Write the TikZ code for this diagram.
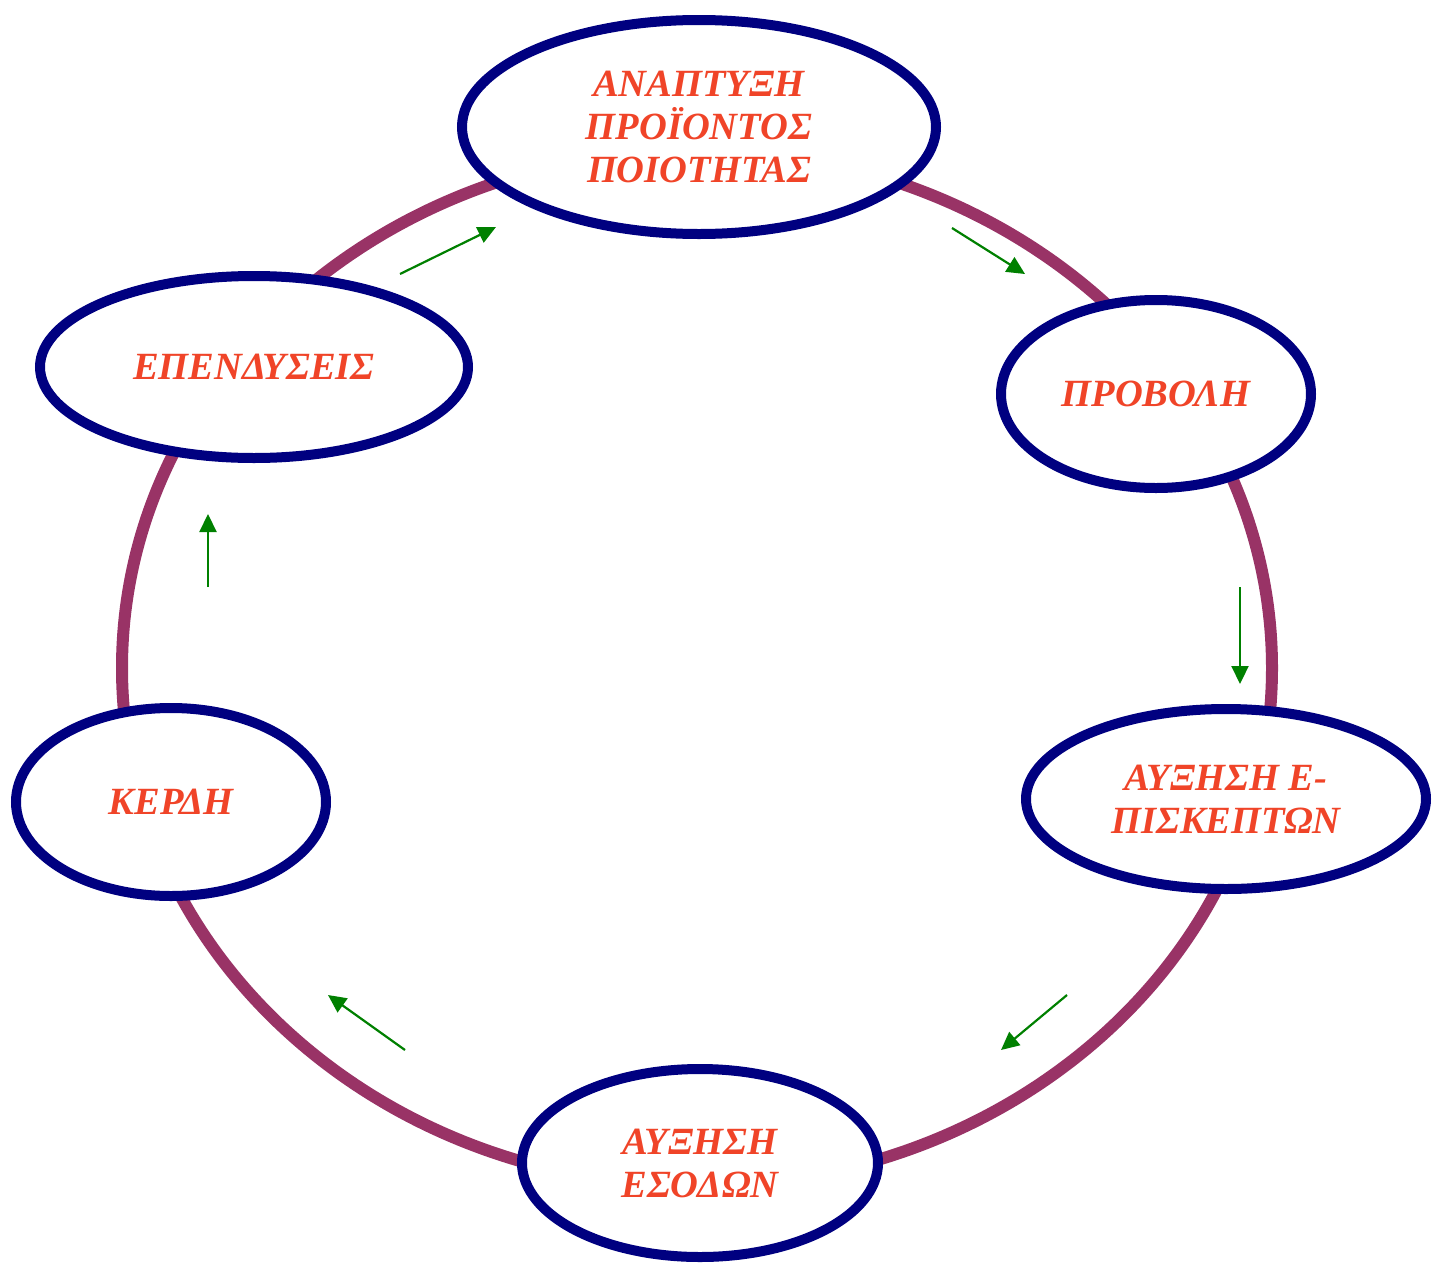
\documentclass[tikz,border=0pt]{standalone}
\usepackage{fontspec}
\setmainfont{Liberation Serif}
\usetikzlibrary{shapes.geometric,arrows.meta,positioning}
\definecolor{ringcol}{RGB}{153,51,102}
\definecolor{navy}{RGB}{0,0,128}
\definecolor{txtred}{RGB}{240,68,40}
\definecolor{arrgreen}{RGB}{0,128,0}
\begin{document}
\begin{tikzpicture}[x=1pt,y=-1pt,
	main node/.style={draw=navy, line width=10pt, fill=white, ellipse, inner sep=0pt, align=center,
		text=txtred, font=\fontsize{38.5}{43}\selectfont\bfseries\itshape},
	ring/.style={draw=ringcol, line width=12pt},
	small arrow/.style={-{Triangle[length=18pt,width=17pt]}, draw=arrgreen, fill=arrgreen, line width=2.2pt}]
				\useasboundingbox (0,0) rectangle (1433,1264);
				\draw[ring] (697,668) ellipse [x radius=575, y radius=518];
				
				\node[main node, minimum width=474pt, minimum height=214pt] (dev) at (699,127) {ΑΝΑΠΤΥΞΗ\\ΠΡΟΪΟΝΤΟΣ\\ΠΟΙΟΤΗΤΑΣ};
				\node[main node, minimum width=310pt, minimum height=188pt] (promo) at (1156,394) {ΠΡΟΒΟΛΗ};
				\node[main node, minimum width=400pt, minimum height=180pt] (visit) at (1226,799) {ΑΥΞΗΣΗ Ε-\\ΠΙΣΚΕΠΤΩΝ};
				\node[main node, minimum width=356pt, minimum height=188pt] (income) at (700,1163) {ΑΥΞΗΣΗ\\ΕΣΟΔΩΝ};
				\node[main node, minimum width=310pt, minimum height=188pt] (profit) at (171,802) {ΚΕΡΔΗ};
				\node[main node, minimum width=428pt, minimum height=182pt] (invest) at (254,367) {ΕΠΕΝΔΥΣΕΙΣ};
				
				\coordinate (a1s) at (400,274); \coordinate (a1e) at (496,227);
				\coordinate (a2s) at (952,228); \coordinate (a2e) at (1025,274);
				\coordinate (a3s) at (1240,587); \coordinate (a3e) at (1240,684);
				\coordinate (a4s) at (1067,995); \coordinate (a4e) at (1001,1050);
				\coordinate (a5s) at (405,1050); \coordinate (a5e) at (328,995);
				\coordinate (a6s) at (208,587); \coordinate (a6e) at (208,514);
				
				\draw[small arrow] (a1s) -- (a1e);
				\draw[small arrow] (a2s) -- (a2e);
				\draw[small arrow] (a3s) -- (a3e);
				\draw[small arrow] (a4s) -- (a4e);
				\draw[small arrow] (a5s) -- (a5e);
				\draw[small arrow] (a6s) -- (a6e);
				
				\end{tikzpicture}
\end{document}
